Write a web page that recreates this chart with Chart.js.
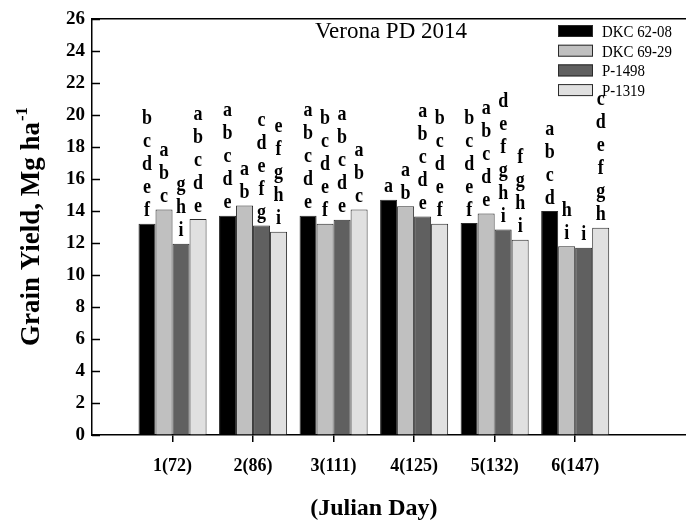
<!DOCTYPE html>
<html>
<head>
<meta charset="utf-8">
<title>Verona PD 2014</title>
<script src="https://cdn.jsdelivr.net/npm/chart.js@4"></script>
<style>
  body { margin: 0; overflow: hidden; background: #fff; }
  #wrap { width: 700px; height: 520px; }
</style>
</head>
<body>
<div id="wrap"><canvas id="chart" width="700" height="520"></canvas></div>
<script>
'use strict';

// data

let categories = ['1(72)', '2(86)', '3(111)', '4(125)', '5(132)', '6(147)'];
let hybrids = ['DKC 62-08', 'DKC 69-29', 'P-1498', 'P-1319'];

let dkc6208 = [13.2, 13.7, 13.7, 14.7, 13.25, 14.0];
let dkc6929 = [14.1, 14.35, 13.2, 14.3, 13.85, 11.8];
let p1498 = [11.95, 13.1, 13.45, 13.65, 12.85, 11.7];
let p1319 = [13.5, 12.7, 14.1, 13.2, 12.2, 12.95];

// mean separation letters, one string per bar
let lettersDkc6208 = ['bcdef', 'abcde', 'abcde', 'a', 'bcdef', 'abcd'];
let lettersDkc6929 = ['abc', 'ab', 'bcdef', 'ab', 'abcde', 'hi'];
let lettersP1498 = ['ghi', 'cdefg', 'abcde', 'abcde', 'defghi', 'i'];
let lettersP1319 = ['abcde', 'efghi', 'abc', 'bcdef', 'fghi', 'cdefgh'];

let yTicks = [0, 2, 4, 6, 8, 10, 12, 14, 16, 18, 20, 22, 24, 26];

let fills = ['#000000', '#c0c0c0', '#606060', '#e0e0e0'];
let allValues = [dkc6208, dkc6929, p1498, p1319];
let allLetters = [lettersDkc6208, lettersDkc6929, lettersP1498, lettersP1319];

const SERIF = '"Liberation Serif", "Times New Roman", serif';

// build datasets - x is the period number so the axis can run past the last group
let datasets = [];
for (let i = 0; i < hybrids.length; i++) {
  datasets.push({
    label: hybrids[i],
    data: allValues[i].map((v, j) => ({ x: j + 1, y: v })),
    backgroundColor: fills[i],
    borderColor: '#2a2a2a',
    borderWidth: 1,
    categoryPercentage: 0.845,
    barPercentage: 1
  });
}

// text, legend, inner ticks and letters
let decorations = {
  id: 'decorations',
  afterDatasetsDraw(chart) {
    const c = chart.ctx;
    c.save();
    c.fillStyle = '#000';
    c.font = 'bold 18px ' + SERIF;
    c.textAlign = 'center';
    c.textBaseline = 'alphabetic';
    for (let i = 0; i < chart.data.datasets.length; i++) {
      let meta = chart.getDatasetMeta(i);
      for (let j = 0; j < meta.data.length; j++) {
        let bar = meta.data[j];
        let word = allLetters[i][j];
        for (let k = 0; k < word.length; k++) {
          let y = bar.y - 7.5 - (word.length - 1 - k) * 23;
          // letters in the original are a bit taller than wide
          c.save();
          c.translate(bar.x, y);
          c.scale(1, 1.15);
          c.fillText(word[k], 0, 0);
          c.restore();
        }
      }
    }
    c.restore();
  },
  afterDraw(chart) {
    const c = chart.ctx;
    const area = chart.chartArea;
    const y = chart.scales.y;
    const x = chart.scales.x;
    c.save();

    // y tick marks point into the plot
    c.strokeStyle = '#000';
    c.lineWidth = 1.5;
    yTicks.forEach(t => {
      let py = Math.round(y.getPixelForValue(t)) + 0.5;
      c.beginPath();
      c.moveTo(area.left, py);
      c.lineTo(area.left + 8, py);
      c.stroke();
    });

    // panel title
    c.fillStyle = '#000';
    c.font = '23px ' + SERIF;
    c.textAlign = 'center';
    c.fillText('Verona PD 2014', 391, 38);

    // legend
    c.font = '16px ' + SERIF;
    c.textAlign = 'left';
    for (let i = 0; i < chart.data.datasets.length; i++) {
      let ds = chart.data.datasets[i];
      let cy = 31 + i * 19.7;
      c.fillStyle = ds.backgroundColor;
      c.fillRect(558, cy - 6, 35, 12);
      c.strokeStyle = '#2a2a2a';
      c.lineWidth = 1;
      c.strokeRect(558.5, cy - 5.5, 34, 11);
      c.fillStyle = '#000';
      c.save();
      c.translate(602, cy + 6);
      c.scale(0.93, 1.1);
      c.fillText(ds.label, 0, 0);
      c.restore();
    }

    // x axis title, centred between periods 3 and 4
    c.font = 'bold 24px ' + SERIF;
    c.textAlign = 'center';
    c.fillText('(Julian Day)', x.getPixelForValue(3.5), 515);

    // y axis title with superscript
    c.translate(39, (area.top + area.bottom) / 2);
    c.rotate(-Math.PI / 2);
    c.font = 'bold 27px ' + SERIF;
    let main = 'Grain Yield, Mg ha';
    let w1 = c.measureText(main).width;
    c.font = 'bold 17px ' + SERIF;
    let w2 = c.measureText('-1').width;
    let start = -(w1 + w2) / 2;
    c.textAlign = 'left';
    c.font = 'bold 27px ' + SERIF;
    c.fillText(main, start, 0);
    c.font = 'bold 17px ' + SERIF;
    c.fillText('-1', start + w1 + 1, -12);

    c.restore();
  }
};

const ctx = document.getElementById('chart').getContext('2d');
const myChart = new Chart(ctx, { //eslint-disable-line
  type: 'bar',
  data: { datasets: datasets },
  options: {
    responsive: false,
    animation: false,
    layout: { padding: { top: 19, right: 0, left: 0, bottom: 0 } },
    plugins: {
      legend: { display: false },
      tooltip: { enabled: false }
    },
    scales: {
      x: {
        type: 'linear',
        min: 0,
        max: 7.55,
        offset: false,
        afterFit: s => { s.height = 85; },
        afterBuildTicks: s => { s.ticks = categories.map((c, i) => ({ value: i + 1 })); },
        grid: { display: true, offset: false, drawOnChartArea: false, drawTicks: true, tickLength: 7, color: '#000', lineWidth: 1.5 },
        border: { display: true, color: '#000', width: 1.5 },
        ticks: {
          padding: 14,
          color: '#000',
          font: { family: SERIF, size: 18, weight: 'bold' },
          callback: v => categories[v - 1]
        }
      },
      top: {
        type: 'linear',
        position: 'top',
        min: 0,
        max: 1,
        afterFit: s => { s.height = 0; },
        grid: { display: false },
        ticks: { display: false },
        border: { display: true, color: '#000', width: 1.5 }
      },
      y: {
        min: 0,
        max: 26,
        afterFit: s => { s.width = 92; },
        afterBuildTicks: s => { s.ticks = yTicks.map(v => ({ value: v })); },
        grid: { display: true, drawOnChartArea: false, drawTicks: false },
        border: { display: true, color: '#000', width: 1.5 },
        ticks: {
          padding: 7,
          color: '#000',
          font: { family: SERIF, size: 19, weight: 'bold' }
        }
      }
    }
  },
  plugins: [decorations]
});
</script>
</body>
</html>
